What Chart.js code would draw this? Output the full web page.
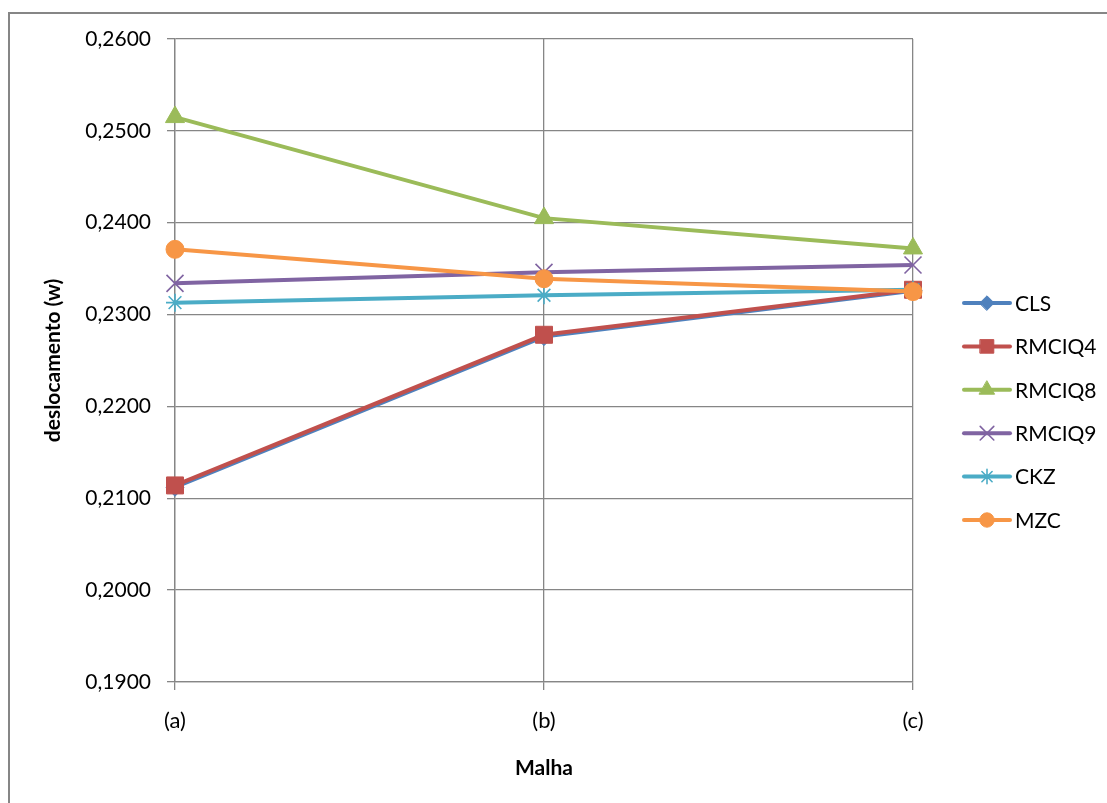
<!DOCTYPE html>
<html>
<head>
<meta charset="utf-8">
<script src="https://cdn.jsdelivr.net/npm/chart.js@4/dist/chart.umd.min.js"></script>
<style>
  html, body { margin: 0; padding: 0; background: #fff; }
  #wrap { width: 1107px; height: 803px; }
</style>
</head>
<body>
<div id="wrap"><canvas id="chart" width="1107" height="803"></canvas></div>
<script>
// categorias e valores
const categories = ["(a)", "(b)", "(c)"];
const seriesNames = ["CLS", "RMCIQ4", "RMCIQ8", "RMCIQ9", "CKZ", "MZC"];
const clsValues    = [0.2112, 0.2276, 0.2326];
const rmciq4Values = [0.2114, 0.2278, 0.2327];
const rmciq8Values = [0.2515, 0.2405, 0.2372];
const rmciq9Values = [0.2334, 0.2346, 0.2354];
const ckzValues    = [0.2313, 0.2321, 0.2327];
const mzcValues    = [0.2371, 0.2339, 0.2325];
const yMin = 0.19, yMax = 0.26, yStep = 0.01;

const FONT = "Lato";
const GRID = "#868686";

const styles = [
    { color: "#4F81BD", point: "rectRot",  radius: 9 },
    { color: "#C0504D", point: "rect",     radius: 12 },
    { color: "#9BBB59", point: "triangle", radius: 11 },
    { color: "#8064A2", point: "crossRot", radius: 12 },
    { color: "#4BACC6", point: "star",     radius: 9 },
    { color: "#F79646", point: "circle",   radius: 9 }
];
const allValues = [clsValues, rmciq4Values, rmciq8Values, rmciq9Values, ckzValues, mzcValues];

const datasets = seriesNames.map((name, i) => ({
    label: name,
    data: allValues[i],
    borderColor: styles[i].color,
    backgroundColor: styles[i].color,
    borderWidth: 4,
    pointStyle: styles[i].point,
    pointRadius: styles[i].radius,
    pointBorderWidth: (styles[i].point === "crossRot" || styles[i].point === "star") ? 1.6 : 1,
    pointBackgroundColor: styles[i].color,
    pointBorderColor: styles[i].color,
    tension: 0,
    // série seguinte desenhada por cima (como no Excel)
    order: seriesNames.length - i
}));

// moldura externa
const framePlugin = {
    id: "frame",
    beforeDraw(chart) {
        const ctx = chart.ctx;
        ctx.save();
        ctx.fillStyle = "#fff";
        ctx.fillRect(0, 0, chart.width, chart.height);
        ctx.strokeStyle = GRID;
        ctx.lineWidth = 2;
        ctx.strokeRect(9, 13, 1300, 1000);
        ctx.restore();
    }
};

// legenda com linha + marcador
const legendPlugin = {
    id: "lineLegend",
    afterDraw(chart) {
        const ctx = chart.ctx;
        ctx.save();
        chart.data.datasets.forEach((ds, i) => {
            const y = 303 + i * 43.4;
            ctx.strokeStyle = ds.borderColor;
            ctx.lineWidth = 4;
            ctx.lineCap = "round";
            ctx.beginPath();
            ctx.moveTo(964, y);
            ctx.lineTo(1010, y);
            ctx.stroke();
            ctx.fillStyle = ds.pointBackgroundColor;
            ctx.strokeStyle = ds.pointBorderColor;
            ctx.lineWidth = ds.pointBorderWidth;
            Chart.helpers.drawPoint(ctx, {
                pointStyle: ds.pointStyle,
                radius: ds.pointRadius * 0.8,
                rotation: 0,
                borderWidth: ds.pointBorderWidth
            }, 987, y);
            ctx.fillStyle = "#000";
            ctx.font = `21px ${FONT}`;
            ctx.textBaseline = "middle";
            ctx.textAlign = "left";
            ctx.fillText(ds.label, 1015, y + 1);
        });
        ctx.restore();
    }
};

new Chart(document.getElementById("chart"), {
    type: "line",
    data: { labels: categories, datasets },
    plugins: [framePlugin, legendPlugin],
    options: {
        responsive: false,
        animation: false,
        layout: { padding: { left: 0, right: 194, top: 39, bottom: 0 } },
        plugins: {
            legend: { display: false },
            tooltip: { enabled: false }
        },
        scales: {
            x: {
                offset: false,
                afterFit: s => { s.height = 121; },
                grid: { color: GRID, lineWidth: 1.3, tickLength: 8, tickColor: GRID },
                border: { color: GRID, width: 1.3 },
                ticks: { color: "#000", font: { family: FONT, size: 22 }, padding: 18 },
                title: {
                    display: true,
                    text: "Malha",
                    color: "#000",
                    font: { family: FONT, size: 21, weight: "bold" },
                    padding: { top: 0, bottom: 22 }
                }
            },
            y: {
                min: yMin,
                max: yMax,
                afterFit: s => { s.width = 175; },
                grid: { color: GRID, lineWidth: 1.3, tickLength: 8, tickColor: GRID },
                border: { color: GRID, width: 1.3 },
                ticks: {
                    stepSize: yStep,
                    color: "#000",
                    font: { family: FONT, size: 21 },
                    padding: 16,
                    callback: v => v.toFixed(4).replace(".", ",")
                },
                title: {
                    display: true,
                    text: "deslocamento (w)",
                    color: "#000",
                    font: { family: FONT, size: 21, weight: "bold" },
                    padding: { top: 41, bottom: 0 }
                }
            }
        }
    }
});
</script>
</body>
</html>
